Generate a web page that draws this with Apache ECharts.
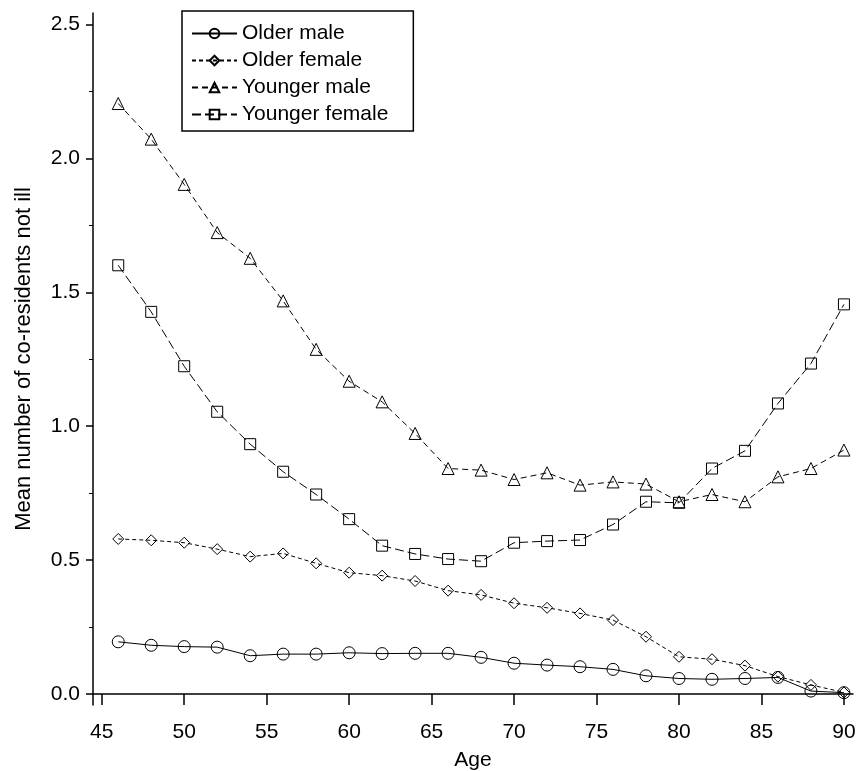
<!DOCTYPE html>
<html>
<head>
    <meta charset="utf-8">
    <title>Co-residents not ill by age</title>
    <script src="https://cdn.jsdelivr.net/npm/echarts@6/dist/echarts.min.js"></script>
    <style>
        body { margin: 0; background: #fff; }
    </style>
</head>
<body>
    <div id="main" style="width: 857px;height:771px;"></div>
    <script type="text/javascript">
        // data
        var ages = [46, 48, 50, 52, 54, 56, 58, 60, 62, 64, 66, 68, 70, 72, 74, 76, 78, 80, 82, 84, 86, 88, 90];
        var olderMale = [0.195, 0.182, 0.177, 0.175, 0.143, 0.149, 0.149, 0.154, 0.151, 0.152, 0.152, 0.137, 0.115, 0.108, 0.102, 0.092, 0.068, 0.058, 0.055, 0.058, 0.062, 0.011, 0.005];
        var olderFemale = [0.579, 0.574, 0.565, 0.541, 0.513, 0.525, 0.488, 0.453, 0.442, 0.422, 0.386, 0.370, 0.339, 0.322, 0.301, 0.276, 0.214, 0.139, 0.130, 0.106, 0.065, 0.034, 0.006];
        var youngerMale = [2.205, 2.072, 1.903, 1.723, 1.627, 1.468, 1.287, 1.168, 1.091, 0.973, 0.842, 0.836, 0.801, 0.826, 0.780, 0.792, 0.784, 0.718, 0.745, 0.718, 0.811, 0.842, 0.911];
        var youngerFemale = [1.601, 1.427, 1.224, 1.054, 0.933, 0.830, 0.745, 0.653, 0.554, 0.523, 0.504, 0.496, 0.565, 0.571, 0.575, 0.633, 0.718, 0.714, 0.842, 0.908, 1.085, 1.234, 1.455];

        var xTicks = [45, 50, 55, 60, 65, 70, 75, 80, 85, 90];
        var yTicks = [0, 0.5, 1.0, 1.5, 2.0, 2.5];
        var yMinorTicks = [0.25, 0.75, 1.25, 1.75, 2.25];

        function pairs(vals) {
            return ages.map(function (a, i) { return [a, vals[i]]; });
        }

        var narrow = '"Liberation Sans Narrow", "Liberation Sans", sans-serif';
        var plain = '"Liberation Sans", Arial, sans-serif';

        function makeSeries(name, vals, symbol, size, dash) {
            return {
                name: name,
                type: 'line',
                data: pairs(vals),
                symbol: symbol,
                symbolSize: size,
                showAllSymbol: true,
                lineStyle: { color: '#000', width: 1, type: dash },
                itemStyle: { color: 'rgba(255,255,255,0)', borderColor: '#000', borderWidth: 1 },
                emphasis: { disabled: true }
            };
        }

        var myChart = echarts.init(document.getElementById('main'));

        myChart.setOption({
            animation: false,
            backgroundColor: '#fff',
            grid: { left: 93, right: 4, top: 13, bottom: 66, outerBoundsMode: 'none' },
            legend: {
                orient: 'vertical',
                left: 182,
                top: 11,
                padding: [12, 25, 6, 9],
                itemWidth: 45,
                itemHeight: 12,
                itemGap: 6,
                borderColor: '#000',
                borderWidth: 1.5,
                backgroundColor: '#fff',
                selectedMode: false,
                textStyle: { fontFamily: plain, fontSize: 21, color: '#000', lineHeight: 21 },
                data: ['Older male', 'Older female', 'Younger male', 'Younger female']
            },
            xAxis: {
                type: 'value',
                min: 44.47,
                max: 90.55,
                name: 'Age',
                nameLocation: 'middle',
                nameGap: 45,
                nameTextStyle: { fontFamily: narrow, fontSize: 21, color: '#000' },
                axisLine: { lineStyle: { color: '#000', width: 1.5 } },
                axisTick: { length: 11, lineStyle: { color: '#000', width: 1.5 }, customValues: xTicks },
                axisLabel: { margin: 17, fontFamily: narrow, fontSize: 21, color: '#000', customValues: xTicks },
                splitLine: { show: false }
            },
            yAxis: [{
                type: 'value',
                min: -0.041,
                max: 2.543,
                name: 'Mean number of co-residents not ill',
                nameLocation: 'middle',
                nameGap: 58,
                nameTextStyle: { fontFamily: narrow, fontSize: 22, color: '#000' },
                axisLine: { show: true, lineStyle: { color: '#000', width: 1.5 } },
                axisTick: { show: true, length: 7, lineStyle: { color: '#000', width: 1.5 }, customValues: yTicks },
                axisLabel: {
                    margin: 13, fontFamily: plain, fontSize: 21, color: '#000', customValues: yTicks,
                    formatter: function (v) { return v.toFixed(1); }
                },
                splitLine: { show: false }
            }, {
                type: 'value',
                min: -0.041,
                max: 2.543,
                position: 'left',
                axisLine: { show: false },
                axisTick: { show: true, length: 4, lineStyle: { color: '#000', width: 1 }, customValues: yMinorTicks },
                axisLabel: { show: false },
                splitLine: { show: false }
            }],
            series: [
                makeSeries('Older male', olderMale, 'circle', 12, 'solid'),
                makeSeries('Older female', olderFemale, 'diamond', 11, [4, 3]),
                makeSeries('Younger male', youngerMale, 'triangle', 12, [6, 4]),
                makeSeries('Younger female', youngerFemale, 'rect', 11, [9, 4])
            ]
        });
    </script>
</body>
</html>
